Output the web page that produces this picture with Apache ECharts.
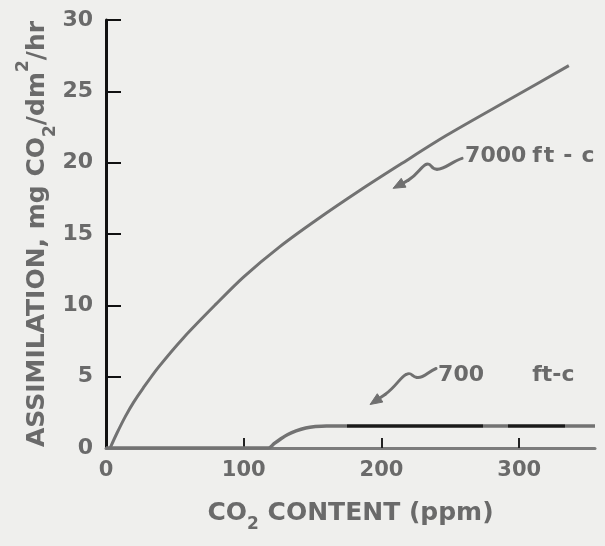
<!DOCTYPE html>
<html>
<head>
<meta charset="utf-8">
<script src="https://cdn.jsdelivr.net/npm/echarts@6/dist/echarts.min.js"></script>
<style>
  html, body { margin: 0; padding: 0; background: #efefed; }
  #chart { width: 605px; height: 546px; }
</style>
</head>
<body>
<div id="chart"></div>
<script>
// CO2 content (ppm) and assimilation (mg CO2/dm2/hr) for the two light levels
const co2High = [3, 8, 14, 20, 27, 38, 56, 80, 100, 126, 153, 185, 214, 247, 296, 336];
const assimHigh = [0, 1.05, 2.2, 3.2, 4.2, 5.65, 7.7, 10.1, 12.0, 14.1, 16.0, 18.1, 19.9, 21.9, 24.6, 26.8];

const co2Low = [0, 118, 122, 127, 132, 138, 145, 152, 160, 355];
const assimLow = [0, 0, 0.3, 0.65, 0.95, 1.2, 1.4, 1.5, 1.55, 1.55];

const xTickLabels = [0, 100, 200, 300];
const yTickLabels = [0, 5, 10, 15, 20, 25, 30];

const seriesNames = ['7000 ft-c', '700 ft-c'];

const FONT = 'DejaVu Sans';
const INK = '#6a6a6a';
const CURVE = '#727272';

const chart = echarts.init(document.getElementById('chart'), null, { renderer: 'canvas' });

const pairs = (xs, ys) => xs.map((x, i) => [x, ys[i]]);

chart.setOption({
  backgroundColor: '#efefed',
  animation: false,
  grid: { left: 106, right: 10, top: 20, bottom: 98, containLabel: false, outerBoundsMode: 'none' },
  xAxis: {
    type: 'value',
    min: 0,
    max: 355,
    interval: 100,
    name: '{m|CO}{s|2}{m| CONTENT (ppm)}',
    nameLocation: 'middle',
    nameGap: 45,
    nameTextStyle: {
      rich: {
        m: { fontFamily: FONT, fontWeight: 'bold', fontSize: 25, color: INK, lineHeight: 40 },
        s: { fontFamily: FONT, fontWeight: 'bold', fontSize: 17, color: INK, lineHeight: 17, verticalAlign: 'bottom' }
      }
    },
    axisLine: { lineStyle: { color: '#7c7c7c', width: 3 } },
    axisTick: {
      inside: true, length: 10,
      customValues: xTickLabels.slice(1),
      lineStyle: { color: '#222', width: 2 }
    },
    axisLabel: {
      customValues: xTickLabels,
      margin: 12,
      fontFamily: FONT, fontWeight: 'bold', fontSize: 21, color: INK
    },
    splitLine: { show: false }
  },
  yAxis: {
    type: 'value',
    min: 0,
    max: 30,
    interval: 5,
    name: '{m|ASSIMILATION, mg CO}{s|2}{m|/dm}{p|2}{m|/hr}',
    nameLocation: 'middle',
    nameRotate: 90,
    nameGap: 47,
    nameMoveOverlap: false,
    nameTextStyle: {
      rich: {
        m: { fontFamily: FONT, fontWeight: 'bold', fontSize: 25, color: INK, lineHeight: 44 },
        s: { fontFamily: FONT, fontWeight: 'bold', fontSize: 17, color: INK, lineHeight: 17, verticalAlign: 'bottom' },
        p: { fontFamily: FONT, fontWeight: 'bold', fontSize: 17, color: INK, lineHeight: 17, verticalAlign: 'top' }
      }
    },
    axisLine: { show: true, lineStyle: { color: '#111', width: 3 } },
    axisTick: { show: true, inside: true, length: 15, lineStyle: { color: '#111', width: 2 } },
    axisLabel: {
      customValues: yTickLabels,
      margin: 13,
      fontFamily: FONT, fontWeight: 'bold', fontSize: 22, color: INK
    },
    splitLine: { show: false }
  },
  visualMap: {
    show: false,
    type: 'piecewise',
    seriesIndex: 1,
    dimension: 0,
    pieces: [
      { lt: 175, color: CURVE },
      { gte: 175, lt: 274, color: '#1a1a1a' },
      { gte: 274, lt: 292, color: CURVE },
      { gte: 292, lt: 333, color: '#1a1a1a' },
      { gte: 333, color: CURVE }
    ]
  },
  series: [
    {
      name: seriesNames[0],
      type: 'line',
      data: pairs(co2High, assimHigh),
      showSymbol: false,
      symbol: 'none',
      smooth: 0.3,
      lineStyle: { color: CURVE, width: 3 },
      z: 3
    },
    {
      name: seriesNames[1],
      type: 'line',
      data: pairs(co2Low, assimLow),
      showSymbol: false,
      symbol: 'none',
      smooth: 0.3,
      lineStyle: { width: 3.5 },
      z: 3
    }
  ]
});

// Curve labels with wavy pointer arrows, anchored in data coordinates.
// Each stroke segment is [x1, y1, cp1x, cp1y, cp2x, cp2y, x2, y2] in pixels relative to the arrow tip.
const annotations = [
  { label: '7000', labelAt: [260.7, 20.45], tip: [208.4, 18.2],
    strokes: [
      [69, -30, 59, -27, 52, -19, 44, -19],
      [44, -19, 37, -19, 39, -26, 33, -24],
      [33, -24, 27, -21, 25, -14, 15, -8],
      [15, -8, 12, -6, 9, -5, 6, -3]
    ],
    head: [[0, 0], [12.9, -1.2], [8.2, -10]] },
  { label: 'ft-c', labelAt: [309.4, 20.45], gaps: [2, 9, 9, 0] },
  { label: '700', labelAt: [241.1, 5.13], tip: [191.7, 3.05],
    strokes: [
      [66, -36, 58, -33, 54, -26, 47, -27],
      [47, -27, 41, -28, 42, -33, 36, -30],
      [36, -30, 30, -27, 26, -18, 15, -10],
      [15, -10, 12, -8, 9, -6, 6, -4]
    ],
    head: [[0, 0], [12.75, -2.45], [7.25, -10.75]] },
  { label: 'ft-c', labelAt: [309.4, 5.13] }
];

const LABEL_FONT = 'bold 22px "' + FONT + '"';
const graphic = [];
annotations.forEach(a => {
  const lp = chart.convertToPixel({ gridIndex: 0 }, a.labelAt);
  let txt = a.label;
  let rich;
  if (a.gaps) {
    rich = {};
    txt = a.label.split('').map((ch, i) => {
      rich['g' + i] = { fill: INK, font: LABEL_FONT, padding: [0, a.gaps[i], 0, 0] };
      return '{g' + i + '|' + ch + '}';
    }).join('');
  }
  graphic.push({
    type: 'text', x: lp[0], y: lp[1], z: 10,
    style: {
      text: txt, fill: INK, font: LABEL_FONT,
      textAlign: 'left', textVerticalAlign: 'middle',
      rich: rich
    }
  });
  if (a.tip) {
    const tp = chart.convertToPixel({ gridIndex: 0 }, a.tip);
    a.strokes.forEach(s => {
      graphic.push({
        type: 'bezierCurve', x: tp[0], y: tp[1], z: 10,
        shape: { x1: s[0], y1: s[1], cpx1: s[2], cpy1: s[3], cpx2: s[4], cpy2: s[5], x2: s[6], y2: s[7] },
        style: { fill: null, stroke: '#707070', lineWidth: 3, lineCap: 'round' }
      });
    });
    graphic.push({
      type: 'polygon', x: tp[0], y: tp[1], z: 10,
      shape: { points: a.head },
      style: { fill: '#707070', stroke: '#707070', lineWidth: 1 }
    });
  }
});
chart.setOption({ graphic: graphic });
</script>
</body>
</html>
